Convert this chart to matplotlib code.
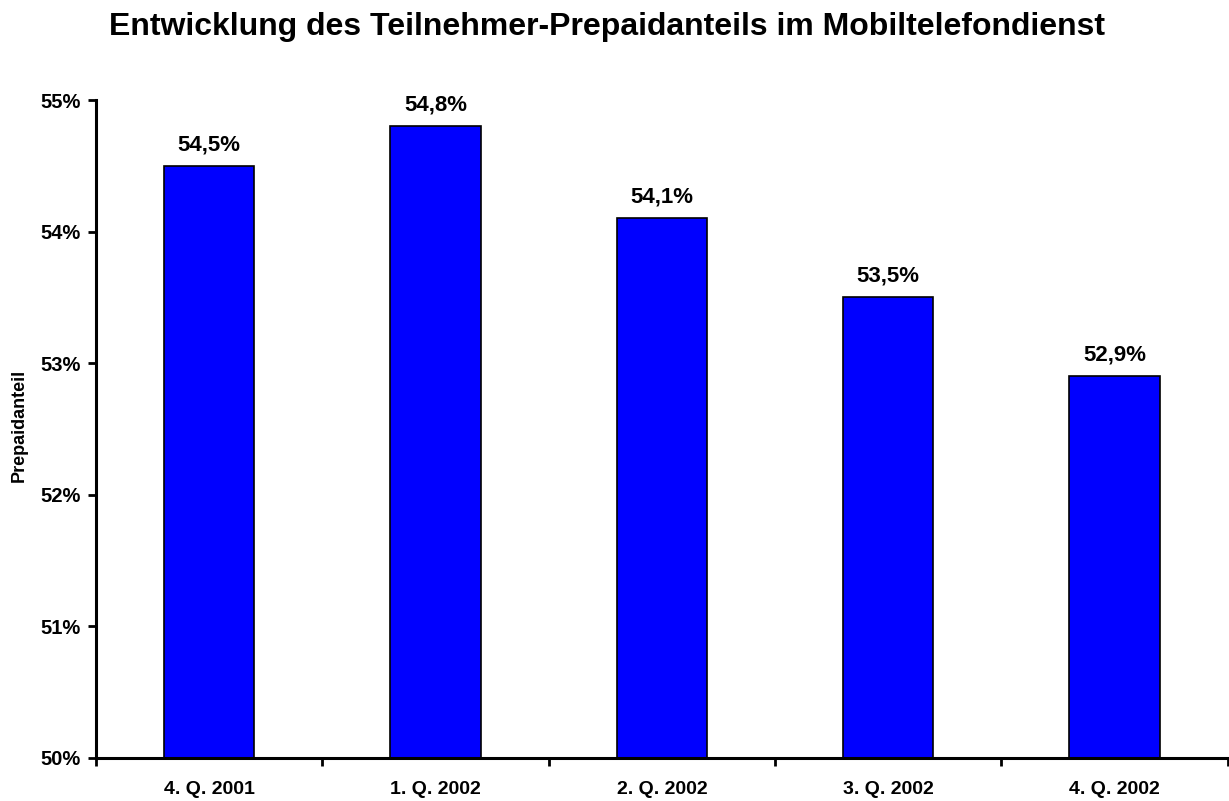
import matplotlib.pyplot as plt
from matplotlib.ticker import FuncFormatter

# Daten
quartale = ["4. Q. 2001", "1. Q. 2002", "2. Q. 2002", "3. Q. 2002", "4. Q. 2002"]
prepaidanteil = [54.5, 54.8, 54.1, 53.5, 52.9]
wert_labels = ["54,5%", "54,8%", "54,1%", "53,5%", "52,9%"]

plt.rcParams['font.family'] = ['Liberation Sans', 'DejaVu Sans']
plt.rcParams['font.weight'] = 'bold'

fig = plt.figure(figsize=(12.29, 8.01), dpi=100)
ax = fig.add_axes([0.078, 0.054, 0.921, 0.821])

x = list(range(len(quartale)))
ax.bar(x, prepaidanteil, width=0.4, color='#0000ff', edgecolor='black', linewidth=1.2, zorder=2)

# Werte über den Balken
for i, v in enumerate(prepaidanteil):
    ax.text(i, v + 0.08, wert_labels[i], ha='center', va='bottom', fontsize=16, fontweight='bold')

ax.set_ylim(50, 55)
ax.set_xlim(-0.5, len(quartale) - 0.5)
ax.set_yticks([50, 51, 52, 53, 54, 55])
ax.yaxis.set_major_formatter(FuncFormatter(lambda v, p: f"{int(v)}%"))

# Kategorienbeschriftung in der Mitte, Striche an den Grenzen
ax.set_xticks([i + 0.5 for i in range(-1, len(quartale))])
ax.set_xticklabels([])
ax.set_xticks(x, minor=True)
ax.set_xticklabels(quartale, minor=True)
ax.tick_params(axis='x', which='minor', length=0, pad=17, labelsize=14)
ax.tick_params(axis='x', which='major', length=6, width=2, direction='out')
ax.tick_params(axis='y', length=6, width=2, direction='out', labelsize=14.5, pad=5)

for s in ['top', 'right']:
    ax.spines[s].set_visible(False)
for s in ['left', 'bottom']:
    ax.spines[s].set_linewidth(2.2)

for lbl in ax.get_xticklabels(minor=True) + ax.get_yticklabels():
    lbl.set_fontweight('bold')

fig.text(19 / 1229, 1 - 425 / 801, 'Prepaidanteil', rotation=90, ha='center', va='center',
         fontsize=13, fontweight='bold')
fig.text(607 / 1229, 1 - 35 / 801, 'Entwicklung des Teilnehmer-Prepaidanteils im Mobiltelefondienst',
         ha='center', va='baseline', fontsize=23, fontweight='bold')

plt.savefig('out.png', dpi=100)
